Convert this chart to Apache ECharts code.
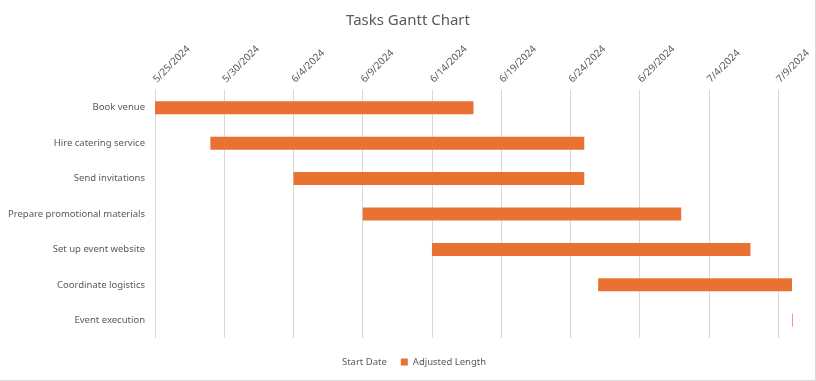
<!DOCTYPE html>
<html>
<head>
<meta charset="utf-8">
<script src="https://cdn.jsdelivr.net/npm/echarts@6/dist/echarts.min.js"></script>
<style>
html,body{margin:0;padding:0;background:#fff;}
#wrap{position:relative;width:816px;height:381px;}
#chart{width:816px;height:381px;}
#frame{position:absolute;left:0;top:0;width:815px;height:380px;border-right:1px solid #d9d9d9;border-bottom:1px solid #d9d9d9;pointer-events:none;}
</style>
</head>
<body>
<div id="wrap"><div id="chart"></div><div id="frame"></div></div>
<script>
const tasks = ['Book venue','Hire catering service','Send invitations','Prepare promotional materials','Set up event website','Coordinate logistics','Event execution'];
const startDates = ['2024-05-25','2024-05-29','2024-06-04','2024-06-09','2024-06-14','2024-06-26','2024-07-10'];
const lengths = [23, 27, 21, 23, 23, 14, 0.05];
const axisStart = '2024-05-25';
const axisEnd = '2024-07-10';
const tickDays = 5;

const DAY = 86400000;
const base = Date.parse(axisStart + 'T00:00:00Z');
const toOffset = s => (Date.parse(s + 'T00:00:00Z') - base) / DAY;
const startOffsets = startDates.map(toOffset);
const fmt = v => { const d = new Date(base + v * DAY); return (d.getUTCMonth()+1) + '/' + d.getUTCDate() + '/' + d.getUTCFullYear(); };

const FONT = 'Noto Sans';
const chart = echarts.init(document.getElementById('chart'));
chart.setOption({
  animation: false,
  title: { text: 'Tasks Gantt Chart', left: 'center', top: 8,
    textStyle: { fontFamily: FONT, fontSize: 15, fontWeight: 'normal', color: '#595959' } },
  legend: { bottom: 9, left: 'center', itemWidth: 7, itemHeight: 7, itemGap: 14,
    icon: 'rect',
    textStyle: { fontFamily: FONT, fontSize: 9.5, color: '#595959' },
    data: ['Start Date', 'Adjusted Length'] },
  grid: { left: 155, right: 24, top: 90, bottom: 43, containLabel: false },
  xAxis: { type: 'value', position: 'top', min: 0, max: toOffset(axisEnd), interval: tickDays,
    axisLine: { show: false }, axisTick: { show: false },
    splitLine: { show: true, showMaxLine: false, lineStyle: { color: '#d9d9d9', width: 1 } },
    axisLabel: { rotate: -45, showMaxLabel: false, margin: 9, fontFamily: FONT, fontSize: 10, color: '#595959',
      formatter: v => (v % tickDays === 0 ? fmt(v) : '') } },
  yAxis: { type: 'category', data: tasks, inverse: true,
    axisLine: { show: true, lineStyle: { color: '#d9d9d9' } }, axisTick: { show: false },
    axisLabel: { margin: 10, fontFamily: FONT, fontSize: 9.5, color: '#595959' } },
  series: [
    { name: 'Start Date', type: 'bar', stack: 'g', data: startOffsets, barWidth: 13,
      itemStyle: { color: 'rgba(0,0,0,0)' }, emphasis: { disabled: true } },
    { name: 'Adjusted Length', type: 'bar', stack: 'g', data: lengths, barWidth: 13, clip: false,
      itemStyle: { color: '#E97132' } }
  ]
});
</script>
</body>
</html>
